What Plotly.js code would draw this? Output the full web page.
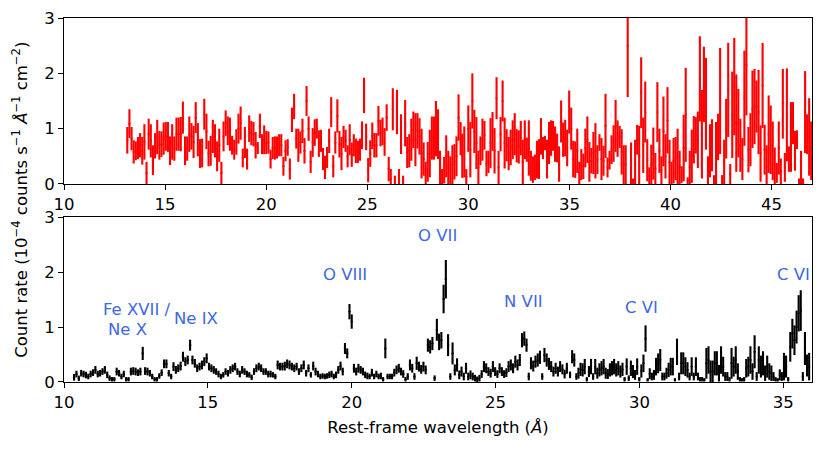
<!DOCTYPE html>
<html>
<head>
<meta charset="utf-8">
<script src="https://cdn.plot.ly/plotly-3.0.1.min.js"></script>
<style>html,body{margin:0;padding:0;background:#fff;}</style>
</head>
<body>
<div id="chart" style="width:830px;height:451px;"></div>
<script>
// top panel: observed-frame spectrum, four runs of bins (start, width)
const topSegStart = [13.13, 21.49, 29.7, 38.05];
const topSegStep = [0.1058, 0.1016, 0.0998, 0.1001];

const topRate1 = [
  0.79,1.09,0.82,0.58,0.6,0.65,0.7,0.6,0.76,0.2,
  0.9,0.78,0.43,0.69,0.85,0.7,0.72,0.82,0.86,0.85,
  0.6,0.76,0.64,0.9,0.9,0.9,1.2,0.6,0.64,0.9,
  0.86,0.76,1.2,0.8,0.55,0.56,1.26,0.95,0.55,0.6,
  0.86,0.78,0.5,0.7,0.2,0.86,1.1,0.96,0.9,0.7,
  0.62,0.76,1.0,1.1,0.47,0.75,0.45,1.0,0.92,0.9,
  0.7,0.65,1.05,0.72,0.8,0.75,0.75,0.45,0.65,0.65,
  0.66,0.7,0.7,0.32,0.6,0.66,0.27,1.16,1.4];
const topErr1 = [
  0.24,0.26,0.21,0.21,0.17,0.2,0.22,0.25,0.32,0.2,
  0.28,0.3,0.27,0.23,0.31,0.26,0.23,0.29,0.26,0.27,
  0.26,0.32,0.22,0.3,0.3,0.31,0.29,0.26,0.22,0.32,
  0.24,0.29,0.28,0.3,0.26,0.26,0.28,0.32,0.23,0.27,
  0.3,0.3,0.27,0.3,0.2,0.27,0.23,0.26,0.3,0.17,
  0.18,0.23,0.27,0.3,0.17,0.28,0.19,0.24,0.22,0.22,
  0.24,0.11,0.22,0.18,0.26,0.21,0.2,0.17,0.2,0.21,
  0.2,0.2,0.2,0.17,0.19,0.15,0.19,0.22,0.23];

const topRate2 = [
  0.82,0.7,0.75,0.96,0.6,1.5,1.0,0.4,0.75,0.93,
  1.0,0.73,0.78,0.45,0.3,0.48,0.78,1.3,0.32,0.75,
  1.23,0.72,0.55,0.85,0.78,0.5,0.8,0.53,0.7,0.6,
  0.58,0.62,0.88,1.6,0.85,0.25,0.55,0.87,0.7,0.7,
  1.14,0.92,0.95,0.76,1.2,0.27,0.1,1.35,0.05,1.3,
  0.1,0.9,0.05,1.1,0.57,0.6,0.8,0.98,0.8,0.96,
  0.86,0.55,0.45,0.15,0.4,0.55,0.83,0.83,1.0,0.9,
  0.3,0.1,0.25,0.5,0.3,0.25,0.35,0.4,0.5,1.2,
  0.82];
const topErr2 = [
  0.18,0.3,0.2,0.22,0.23,0.27,0.22,0.2,0.26,0.24,
  0.18,0.24,0.2,0.2,0.21,0.19,0.22,0.27,0.2,0.2,
  0.3,0.24,0.3,0.2,0.2,0.2,0.28,0.22,0.2,0.22,
  0.2,0.2,0.25,0.32,0.24,0.22,0.24,0.24,0.22,0.22,
  0.27,0.24,0.25,0.25,0.24,0.22,0.17,0.38,0.1,0.4,
  0.17,0.36,0.1,0.42,0.28,0.3,0.38,0.33,0.48,0.32,
  0.33,0.45,0.3,0.25,0.36,0.43,0.39,0.39,0.5,0.45,
  0.3,0.17,0.24,0.38,0.3,0.25,0.35,0.32,0.36,0.42,
  0.3];

const topRate3 = [
  0.51,0.58,0.13,1.0,0.62,1.5,0.95,0.74,0.3,0.6,
  0.8,0.88,0.37,0.4,0.74,0.95,0.6,1.55,0.3,0.9,
  1.5,0.74,0.7,0.55,0.66,0.8,0.9,0.69,0.67,0.83,
  0.4,0.8,0.62,0.65,0.33,0.26,0.3,0.44,0.45,0.86,
  0.65,0.74,0.45,0.74,0.83,0.87,0.72,0.65,0.36,1.13,
  0.8,0.83,0.65,1.3,1.0,0.45,0.44,0.6,0.2,0.35,
  0.32,0.65,0.8,0.4,0.42,0.56,0.6,0.44,0.75,0.45,
  0.42,1.05,0.3,0.43,0.62,0.73,1.05,0.82,0.85,0.58,
  0.35,0.35,2.5];
const topErr3 = [
  0.4,0.46,0.14,0.42,0.5,0.5,0.39,0.47,0.3,0.26,
  0.38,0.26,0.23,0.2,0.45,0.35,0.41,0.38,0.3,0.31,
  0.37,0.46,0.29,0.3,0.32,0.35,0.38,0.3,0.3,0.31,
  0.4,0.35,0.22,0.5,0.27,0.24,0.23,0.34,0.36,0.33,
  0.2,0.13,0.35,0.38,0.32,0.27,0.32,0.26,0.32,0.38,
  0.31,0.33,0.33,0.39,0.38,0.33,0.33,0.4,0.2,0.28,
  0.23,0.35,0.42,0.36,0.23,0.38,0.5,0.26,0.15,0.38,
  0.27,0.58,0.18,0.17,0.26,0.33,0.47,0.33,0.2,0.41,
  0.35,0.35,0.93];

const topRate4 = [
  0.34,0.05,0.36,0.8,0.5,1.65,0.7,1.3,0.43,0.15,
  0.35,0.55,0.28,1.3,0.6,0.25,0.95,0.5,1.15,0.4,
  0.2,0.42,0.46,0.5,0.3,0.17,0.65,1.25,0.06,0.3,
  0.5,0.8,0.88,0.8,1.9,0.9,1.8,1.45,0.25,0.6,
  0.7,0.08,0.55,0.85,1.5,0.08,0.4,1.0,1.7,0.18,
  1.25,1.76,1.1,1.1,0.7,0.45,1.55,2.15,0.62,0.8,
  1.35,1.4,1.4,1.3,0.55,1.78,0.62,0.3,0.9,0.8,
  0.6,0.33,0.2,0.65,0.23,1.45,0.3,1.25,0.45,0.85,
  1.1,0.6,0.8,0.05,0.3,0.05,1.3,0.9,0.85,0.6];
const topErr4 = [
  0.41,0.05,0.44,0.27,0.55,0.64,0.5,0.55,0.38,0.15,
  0.36,0.47,0.28,0.54,0.4,0.25,0.63,0.4,0.6,0.4,
  0.2,0.41,0.39,0.5,0.3,0.15,0.6,0.85,0.06,0.3,
  0.48,0.43,0.33,0.51,0.77,0.8,0.68,0.83,0.25,0.48,
  0.47,0.08,0.57,0.42,0.96,0.08,0.4,0.54,0.85,0.18,
  0.78,0.88,0.88,0.62,0.48,0.38,0.86,0.91,0.41,0.48,
  0.7,0.68,0.47,0.76,0.51,0.77,0.45,0.4,0.7,0.62,
  0.53,0.33,0.18,0.48,0.23,0.63,0.26,0.84,0.23,0.63,
  0.38,0.36,0.17,0.05,0.3,0.05,0.74,0.36,0.7,0.53];

// bottom panel: rest-frame spectrum, three runs of bins
const botSegStart = [10.35, 18.91, 27.59];
const botSegStep = [0.0823, 0.0779, 0.0729];

const botRate1 = [
  0.085,0.145,0.067,0.16,0.145,0.127,0.1,0.145,0.17,0.22,
  0.145,0.16,0.19,0.22,0.13,0.07,0.05,0.05,0.19,0.16,
  0.1,0.145,0.05,0.05,0.19,0.2,0.19,0.17,0.19,0.52,
  0.2,0.19,0.16,0.1,0.05,0.05,0.11,0.17,0.33,0.33,
  0.16,0.1,0.28,0.22,0.25,0.29,0.46,0.37,0.4,0.67,
  0.4,0.34,0.25,0.28,0.31,0.37,0.43,0.28,0.25,0.22,
  0.19,0.145,0.1,0.13,0.19,0.16,0.22,0.25,0.28,0.19,
  0.145,0.22,0.19,0.145,0.13,0.085,0.19,0.25,0.28,0.25,
  0.19,0.19,0.145,0.145,0.13,0.1,0.31,0.28,0.28,0.29,
  0.33,0.31,0.28,0.25,0.28,0.19,0.25,0.31,0.16,0.25,
  0.13,0.29,0.19,0.145];
const botErr1 = [
  0.06,0.06,0.05,0.06,0.06,0.06,0.05,0.06,0.06,0.07,
  0.06,0.06,0.06,0.07,0.06,0.05,0.04,0.04,0.07,0.06,
  0.05,0.06,0.04,0.04,0.07,0.07,0.07,0.06,0.07,0.12,
  0.07,0.07,0.06,0.05,0.04,0.04,0.05,0.06,0.08,0.08,
  0.06,0.05,0.08,0.07,0.07,0.08,0.09,0.08,0.08,0.1,
  0.08,0.08,0.07,0.07,0.08,0.08,0.09,0.07,0.07,0.07,
  0.06,0.06,0.05,0.05,0.06,0.06,0.07,0.07,0.07,0.06,
  0.06,0.07,0.06,0.06,0.05,0.05,0.06,0.07,0.07,0.07,
  0.06,0.06,0.06,0.06,0.05,0.05,0.08,0.07,0.07,0.08,
  0.08,0.08,0.07,0.07,0.07,0.06,0.07,0.08,0.06,0.07,
  0.05,0.08,0.07,0.06];

const botRate2 = [
  0.1,0.11,0.1,0.11,0.13,0.145,0.1,0.13,0.22,0.29,
  0.19,0.61,0.52,1.28,1.1,0.25,0.19,0.25,0.22,0.19,
  0.13,0.11,0.1,0.17,0.1,0.145,0.1,0.11,0.05,0.61,
  0.1,0.1,0.1,0.17,0.22,0.25,0.19,0.145,0.05,0.1,
  0.31,0.25,0.1,0.34,0.28,0.23,0.28,0.22,0.67,0.64,
  0.7,0.07,0.95,0.73,0.76,1.51,1.87,0.67,0.1,0.52,
  0.22,0.31,0.13,0.19,0.1,0.25,0.1,0.13,0.1,0.07,
  0.05,0.07,0.145,0.28,0.25,0.19,0.16,0.28,0.19,0.145,
  0.25,0.19,0.145,0.17,0.28,0.31,0.25,0.37,0.31,0.4,
  0.76,0.79,0.67,0.1,0.34,0.29,0.37,0.4,0.45,0.1,
  0.49,0.4,0.33,0.28,0.19,0.25,0.19,0.28,0.23,0.145,
  0.25];
const botErr2 = [
  0.05,0.05,0.05,0.05,0.06,0.06,0.05,0.06,0.07,0.08,
  0.07,0.1,0.09,0.14,0.13,0.08,0.07,0.08,0.07,0.07,
  0.06,0.06,0.05,0.07,0.05,0.06,0.05,0.06,0.04,0.18,
  0.05,0.05,0.05,0.07,0.08,0.08,0.07,0.07,0.04,0.06,
  0.1,0.08,0.06,0.12,0.09,0.08,0.09,0.08,0.12,0.12,
  0.12,0.05,0.2,0.15,0.15,0.26,0.35,0.2,0.06,0.2,
  0.1,0.12,0.08,0.09,0.07,0.1,0.07,0.08,0.07,0.06,
  0.05,0.06,0.07,0.1,0.09,0.08,0.08,0.1,0.08,0.07,
  0.09,0.08,0.07,0.08,0.1,0.1,0.09,0.11,0.1,0.11,
  0.13,0.13,0.12,0.07,0.11,0.1,0.11,0.12,0.12,0.06,
  0.13,0.12,0.11,0.1,0.09,0.1,0.09,0.1,0.09,0.08,
  0.1];

const botRate3 = [
  0.13,0.46,0.4,0.1,0.16,0.23,0.22,0.28,0.05,0.19,
  0.28,0.1,0.28,0.16,0.22,0.25,0.28,0.16,0.145,0.22,
  0.25,0.28,0.22,0.25,0.19,0.23,0.05,0.28,0.07,0.25,
  0.19,0.13,0.28,0.05,0.2,0.34,0.79,0.04,0.15,0.1,
  0.13,0.28,0.34,0.4,0.1,0.1,0.16,0.22,0.28,0.28,
  0.04,0.55,0.1,0.34,0.34,0.28,0.22,0.1,0.28,0.1,
  0.28,0.1,0.05,0.05,0.04,0.34,0.4,0.19,0.19,0.34,
  0.34,0.16,0.4,0.28,0.1,0.1,0.05,0.34,0.28,0.4,
  0.19,0.05,0.04,0.05,0.25,0.28,0.4,0.19,0.55,0.1,
  0.4,0.28,0.34,0.16,0.28,0.19,0.16,0.1,0.05,0.04,
  0.13,0.1,0.28,0.28,0.05,0.64,0.88,0.76,1.0,1.25,
  1.3,0.1,0.61,0.3,0.28];
const botErr3 = [
  0.06,0.12,0.12,0.06,0.1,0.12,0.12,0.14,0.04,0.1,
  0.14,0.06,0.14,0.1,0.12,0.13,0.14,0.1,0.09,0.12,
  0.13,0.14,0.12,0.13,0.11,0.12,0.04,0.15,0.05,0.14,
  0.12,0.09,0.15,0.04,0.12,0.16,0.24,0.03,0.1,0.07,
  0.09,0.16,0.18,0.2,0.07,0.07,0.1,0.13,0.16,0.16,
  0.03,0.24,0.07,0.2,0.2,0.17,0.14,0.07,0.17,0.07,
  0.17,0.07,0.04,0.04,0.03,0.28,0.25,0.2,0.2,0.22,
  0.22,0.15,0.25,0.18,0.08,0.08,0.04,0.28,0.18,0.25,
  0.15,0.04,0.03,0.04,0.17,0.18,0.25,0.15,0.3,0.08,
  0.25,0.2,0.22,0.14,0.2,0.15,0.14,0.08,0.04,0.03,
  0.1,0.08,0.25,0.2,0.04,0.27,0.27,0.27,0.3,0.33,
  0.37,0.08,0.3,0.2,0.25];

const lineLabels = ['Fe XVII /', 'Ne X', 'Ne IX', 'O VIII', 'O VII', 'N VII', 'C VI', 'C VI'];
const lineLabelX = [12.55, 12.22, 14.58, 19.77, 22.99, 25.97, 30.07, 35.35];
const lineLabelY = [1.31, 0.96, 1.16, 1.96, 2.67, 1.46, 1.36, 1.96];

const FS = 16.5;  // text size used by the reference figure

function spectrum(starts, steps, rates, errs, color, xa, ya) {
  let x = [], y = [], ey = [], ex = [];
  for (let s = 0; s < starts.length; s++) {
    for (let k = 0; k < rates[s].length; k++) {
      x.push(starts[s] + k * steps[s]);
      y.push(rates[s][k]);
      ey.push(errs[s][k]);
      ex.push(steps[s] / 2);
    }
  }
  return {
    type: 'scatter', mode: 'markers', x: x, y: y, xaxis: xa, yaxis: ya,
    marker: {size: 1, color: color},
    error_y: {type: 'data', array: ey, visible: true, color: color, thickness: 2.1, width: 0},
    error_x: {type: 'data', array: ex, visible: true, color: color, thickness: 1.5, width: 0},
    hoverinfo: 'skip', showlegend: false
  };
}

var data = [
  spectrum(topSegStart, topSegStep, [topRate1, topRate2, topRate3, topRate4],
           [topErr1, topErr2, topErr3, topErr4], '#ff0000', 'x', 'y'),
  spectrum(botSegStart, botSegStep, [botRate1, botRate2, botRate3],
           [botErr1, botErr2, botErr3], '#000000', 'x2', 'y2')
];

var axisStyle = {
  showline: true, mirror: true, linecolor: '#000', linewidth: 1,
  ticks: 'outside', ticklen: 5, tickwidth: 1, tickcolor: '#000',
  showgrid: false, zeroline: false, fixedrange: true,
  tickfont: {size: FS}
};

var annotations = lineLabels.map((t, i) => ({
  text: t, x: lineLabelX[i], y: lineLabelY[i], xref: 'x2', yref: 'y2',
  showarrow: false, xanchor: 'center', yanchor: 'middle',
  font: {family: 'DejaVu Sans', size: FS, color: '#4169e1'}
}));
annotations.push({
  text: 'Count rate (10<sup>\u22124</sup> counts s<sup>\u22121</sup> <i>\u00c5</i><sup>\u22121</sup> cm<sup>\u22122</sup>)',
  xref: 'paper', yref: 'paper', x: -0.059, y: 0.5, textangle: -90,
  showarrow: false, xanchor: 'center', yanchor: 'middle',
  font: {family: 'DejaVu Sans', size: FS, color: '#000'}
});

var layout = {
  width: 830, height: 451,
  margin: {l: 64, r: 18, t: 18, b: 69},
  paper_bgcolor: '#fff', plot_bgcolor: '#fff',
  font: {family: 'DejaVu Sans', size: FS, color: '#000'},
  xaxis: Object.assign({}, axisStyle, {domain: [0, 1], range: [10, 47], tick0: 10, dtick: 5, anchor: 'y'}),
  yaxis: Object.assign({}, axisStyle, {domain: [0.544, 1], range: [0, 3], dtick: 1, anchor: 'x'}),
  xaxis2: Object.assign({}, axisStyle, {domain: [0, 1], range: [10, 36], tick0: 10, dtick: 5, anchor: 'y2',
    title: {text: 'Rest-frame wavelength (<i>\u00c5</i>)', standoff: 10, font: {size: FS}}}),
  yaxis2: Object.assign({}, axisStyle, {domain: [0, 0.453], range: [0, 3], dtick: 1, anchor: 'x2'}),
  annotations: annotations
};

Plotly.newPlot('chart', data, layout, {displayModeBar: false, staticPlot: true});
</script>
</body>
</html>
